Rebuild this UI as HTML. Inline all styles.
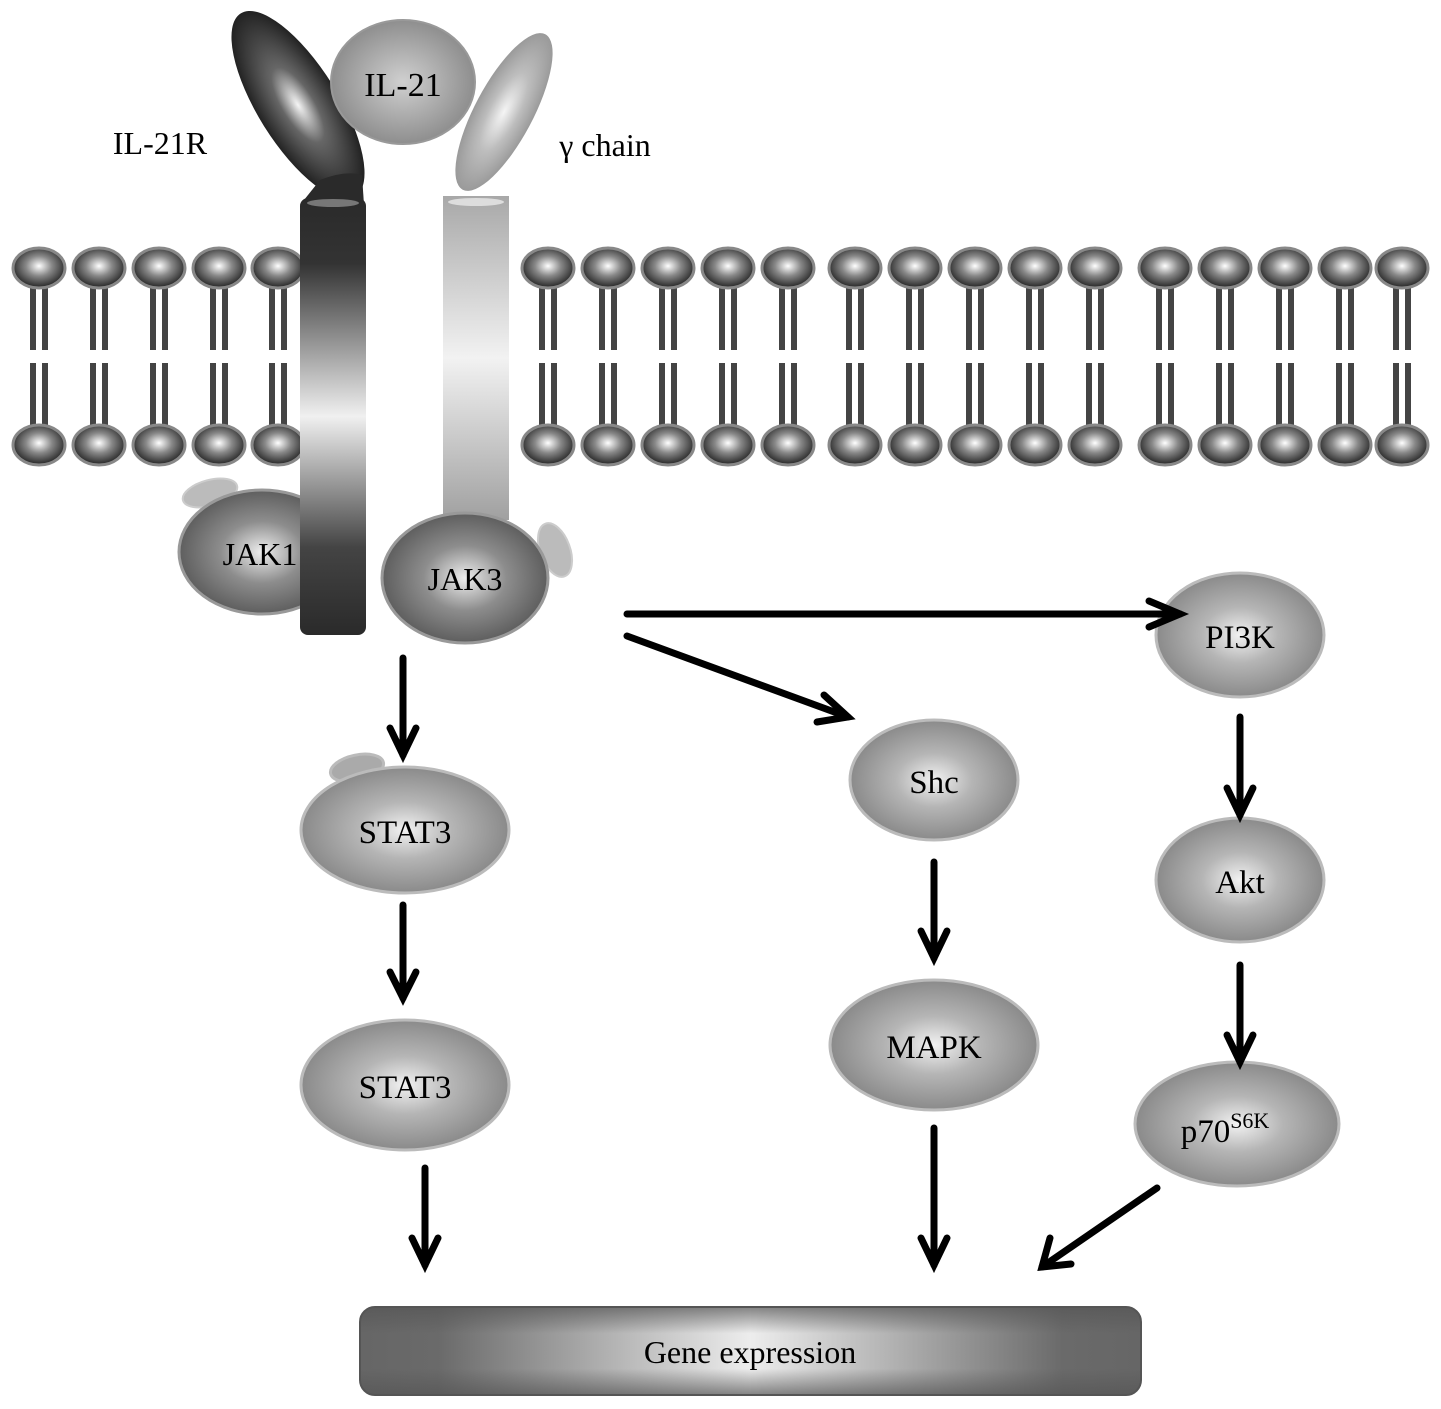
<!DOCTYPE html>
<html><head><meta charset="utf-8"><style>html,body{margin:0;padding:0;background:#fff}svg{display:block}</style></head>
<body>
<svg width="1441" height="1409" viewBox="0 0 1441 1409" xmlns="http://www.w3.org/2000/svg" font-family="Liberation Serif, serif">
<defs>
<radialGradient id="node" cx="50%" cy="50%" r="50%"><stop offset="0" stop-color="#f2f2f2"/><stop offset="0.45" stop-color="#b5b5b5"/><stop offset="1" stop-color="#8a8a8a"/></radialGradient>
<radialGradient id="jak" cx="50%" cy="50%" r="50%"><stop offset="0" stop-color="#eeeeee"/><stop offset="0.5" stop-color="#8d8d8d"/><stop offset="1" stop-color="#5e5e5e"/></radialGradient>
<radialGradient id="head" cx="50%" cy="45%" r="50%"><stop offset="0" stop-color="#ffffff"/><stop offset="0.5" stop-color="#888"/><stop offset="1" stop-color="#333"/></radialGradient>
<radialGradient id="il21" cx="50%" cy="50%" r="50%"><stop offset="0" stop-color="#d0d0d0"/><stop offset="1" stop-color="#8e8e8e"/></radialGradient>
<radialGradient id="rhead" cx="50%" cy="50%" r="50%"><stop offset="0" stop-color="#f5f5f5"/><stop offset="0.4" stop-color="#666"/><stop offset="1" stop-color="#222"/></radialGradient>
<radialGradient id="ghead" cx="50%" cy="50%" r="50%"><stop offset="0" stop-color="#f5f5f5"/><stop offset="0.5" stop-color="#bdbdbd"/><stop offset="1" stop-color="#9a9a9a"/></radialGradient>
<linearGradient id="rstem" x1="0" y1="0" x2="0" y2="1"><stop offset="0" stop-color="#2a2a2a"/><stop offset="0.15" stop-color="#333"/><stop offset="0.5" stop-color="#f0f0f0"/><stop offset="0.8" stop-color="#444"/><stop offset="1" stop-color="#2a2a2a"/></linearGradient>
<linearGradient id="gstem" x1="0" y1="0" x2="0" y2="1"><stop offset="0" stop-color="#a8a8a8"/><stop offset="0.5" stop-color="#f2f2f2"/><stop offset="1" stop-color="#a0a0a0"/></linearGradient>
<linearGradient id="gene" x1="0" y1="0" x2="1" y2="0"><stop offset="0" stop-color="#666"/><stop offset="0.1" stop-color="#6a6a6a"/><stop offset="0.5" stop-color="#ededed"/><stop offset="0.9" stop-color="#6a6a6a"/><stop offset="1" stop-color="#666"/></linearGradient>
<linearGradient id="genev" x1="0" y1="0" x2="0" y2="1"><stop offset="0" stop-color="#555" stop-opacity="0.7"/><stop offset="0.3" stop-color="#555" stop-opacity="0"/><stop offset="0.7" stop-color="#555" stop-opacity="0"/><stop offset="1" stop-color="#555" stop-opacity="0.7"/></linearGradient>
<g id="lipid">
<rect x="-9" y="268" width="6" height="82" fill="#444"/><rect x="3" y="268" width="6" height="82" fill="#444"/>
<rect x="-9" y="363" width="6" height="82" fill="#444"/><rect x="3" y="363" width="6" height="82" fill="#444"/>
<ellipse cx="0" cy="268" rx="26" ry="20" fill="url(#head)" stroke="#888" stroke-width="3"/>
<ellipse cx="0" cy="445" rx="26" ry="20" fill="url(#head)" stroke="#888" stroke-width="3"/>
</g>
</defs>
<use href="#lipid" x="39"/><use href="#lipid" x="99"/><use href="#lipid" x="159"/><use href="#lipid" x="219"/><use href="#lipid" x="278"/>
<use href="#lipid" x="548"/><use href="#lipid" x="608"/><use href="#lipid" x="668"/><use href="#lipid" x="728"/><use href="#lipid" x="788"/>
<use href="#lipid" x="855"/><use href="#lipid" x="915"/><use href="#lipid" x="975"/><use href="#lipid" x="1035"/><use href="#lipid" x="1095"/>
<use href="#lipid" x="1165"/><use href="#lipid" x="1225"/><use href="#lipid" x="1285"/><use href="#lipid" x="1345"/><use href="#lipid" x="1402"/>
<!-- receptor heads -->
<ellipse cx="298" cy="105" rx="40" ry="108" transform="rotate(-32 298 105)" fill="url(#rhead)"/>
<path d="M320,180 Q345,170 362,175 L364,205 L300,205 Z" fill="#2a2a2a"/>
<ellipse cx="504" cy="112" rx="29" ry="88" transform="rotate(28 504 112)" fill="url(#ghead)"/>
<ellipse cx="403" cy="82" rx="72" ry="62" fill="url(#il21)" stroke="#999" stroke-width="2"/>
<text x="403" y="96" font-size="34" text-anchor="middle">IL-21</text>
<text x="160" y="154" font-size="32" text-anchor="middle">IL-21R</text>
<text x="605" y="156" font-size="32" text-anchor="middle">γ chain</text>
<!-- JAK1 behind stem -->
<ellipse cx="210" cy="493" rx="28" ry="13" fill="#bbb" stroke="#ccc" stroke-width="2" transform="rotate(-15 210 493)"/>
<ellipse cx="262" cy="552" rx="83" ry="62" fill="url(#jak)" stroke="#999" stroke-width="3"/>
<!-- stems -->
<rect x="300" y="198" width="66" height="437" rx="8" fill="url(#rstem)"/>
<ellipse cx="333" cy="203" rx="26" ry="4" fill="#777"/>
<rect x="443" y="196" width="66" height="324" fill="url(#gstem)"/>
<ellipse cx="476" cy="202" rx="28" ry="4" fill="#ddd"/>
<text x="260" y="565" font-size="32" text-anchor="middle">JAK1</text>
<ellipse cx="555" cy="550" rx="15" ry="28" fill="#bbb" stroke="#ccc" stroke-width="2" transform="rotate(-20 555 550)"/>
<ellipse cx="465" cy="578" rx="83" ry="65" fill="url(#jak)" stroke="#999" stroke-width="3"/>
<text x="465" y="590" font-size="32" text-anchor="middle">JAK3</text>
<g stroke="#bbb" stroke-width="3">
<ellipse cx="357" cy="768" rx="27" ry="13" fill="#aaa" transform="rotate(-12 357 768)"/>
<ellipse cx="405" cy="830" rx="104" ry="63" fill="url(#node)"/>
<ellipse cx="405" cy="1085" rx="104" ry="65" fill="url(#node)"/>
<ellipse cx="934" cy="780" rx="84" ry="60" fill="url(#node)"/>
<ellipse cx="934" cy="1045" rx="104" ry="65" fill="url(#node)"/>
<ellipse cx="1240" cy="635" rx="84" ry="62" fill="url(#node)"/>
<ellipse cx="1240" cy="880" rx="84" ry="62" fill="url(#node)"/>
<ellipse cx="1237" cy="1124" rx="102" ry="62" fill="url(#node)"/>
</g>
<g font-size="33" text-anchor="middle">
<text x="405" y="843">STAT3</text>
<text x="405" y="1098">STAT3</text>
<text x="934" y="793">Shc</text>
<text x="934" y="1058">MAPK</text>
<text x="1240" y="648">PI3K</text>
<text x="1240" y="893">Akt</text>
<text x="1225" y="1142">p70<tspan font-size="22" dy="-14">S6K</tspan></text>
</g>
<g stroke="#000" stroke-width="7" fill="none" stroke-linecap="round" stroke-linejoin="miter">
<line x1="403" y1="658" x2="403" y2="755"/><polyline points="390,728 403,755 416,728"/>
<line x1="403" y1="905" x2="403" y2="998"/><polyline points="390,972 403,998 416,972"/>
<line x1="425" y1="1168" x2="425" y2="1265"/><polyline points="412,1238 425,1265 438,1238"/>
<line x1="934" y1="862" x2="934" y2="958"/><polyline points="921,931 934,958 947,931"/>
<line x1="934" y1="1128" x2="934" y2="1265"/><polyline points="921,1238 934,1265 947,1238"/>
<line x1="1240" y1="717" x2="1240" y2="815"/><polyline points="1227,788 1240,815 1253,788"/>
<line x1="1240" y1="965" x2="1240" y2="1062"/><polyline points="1227,1035 1240,1062 1253,1035"/>
<line x1="1157" y1="1188" x2="1042" y2="1267"/><polyline points="1050,1238 1042,1267 1071,1264"/>
<line x1="627" y1="614" x2="1180" y2="614"/><polyline points="1149,601 1180,614 1149,627"/>
<line x1="627" y1="636" x2="848" y2="717"/><polyline points="824,695 848,717 817,722"/>
</g>
<rect x="360" y="1307" width="781" height="88" rx="15" fill="url(#gene)" stroke="#555" stroke-width="2"/>
<rect x="360" y="1307" width="781" height="88" rx="15" fill="url(#genev)"/>
<text x="750" y="1363" font-size="32" text-anchor="middle">Gene expression</text>
</svg>
</body></html>
